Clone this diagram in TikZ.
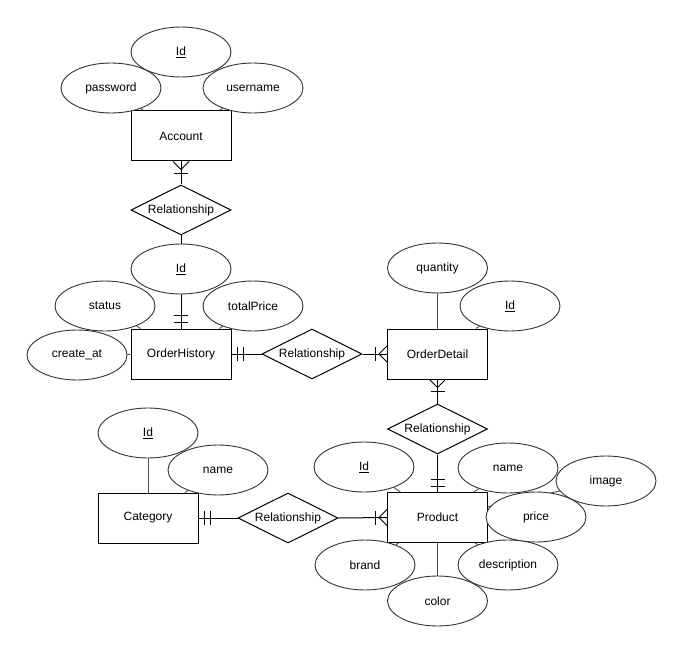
\documentclass[tikz,border=0pt]{standalone}
\usepackage{fontspec}
\setmainfont{Liberation Sans}
\usetikzlibrary{shapes.geometric}
\pgfdeclarelayer{bg}
\pgfsetlayers{bg,main}
\begin{document}
\begin{tikzpicture}[x=1pt,y=-1pt,
  lbl/.style={font=\fontsize{12}{14}\selectfont, text=black},
  ent/.style={lbl, rectangle, draw=black, fill=white, line width=1pt, minimum width=100pt, minimum height=50pt, inner sep=0pt},
  attr/.style={lbl, ellipse, draw=black!80, fill=white, line width=0.9pt, minimum width=100pt, minimum height=50pt, inner sep=0pt},
  rel/.style={lbl, diamond, aspect=2, draw=black, fill=white, line width=1pt, minimum width=100pt, minimum height=50pt, inner sep=0pt},
  link/.style={draw=black!70, line width=0.9pt},
  conn/.style={draw=black, line width=1pt},
  ermark/.style={draw=black, line width=1pt},
]
\useasboundingbox (0,0) rectangle (682,652);

% entities
\node[ent] (acc) at (181,136) {Account};
\node[ent] (oh) at (181,354) {OrderHistory};
\node[ent] (od) at (437.5,354) {OrderDetail};
\node[ent] (prod) at (437.5,517.5) {Product};
\node[ent] (cat) at (148,518) {Category};

% relationships
\node[rel] (rel1) at (181,210) {Relationship};
\node[rel] (rel2) at (312,354) {Relationship};
\node[rel] (rel3) at (437.5,429) {Relationship};
\node[rel] (rel4) at (288,518) {Relationship};

% attributes
\node[attr] (accpw) at (111,88) {password};
\node[attr] (accid) at (181,52) {\underline{Id}};
\node[attr] (accun) at (253,88) {username};

\node[attr] (ohid) at (181,269) {\underline{Id}};
\node[attr] (ohst) at (105,306) {status};
\node[attr] (ohtp) at (253,306) {totalPrice};
\node[attr] (ohca) at (77,355) {create\_at};

\node[attr] (odq) at (437.5,268) {quantity};
\node[attr] (odid) at (510,306) {\underline{Id}};

\node[attr] (catid) at (148,433) {\underline{Id}};
\node[attr] (catname) at (218,470) {name};

\node[attr] (pid) at (364,467) {\underline{Id}};
\node[attr] (pname) at (508,468) {name};
\node[attr] (pimg) at (606,481) {image};
\node[attr] (pprice) at (536,517) {price};
\node[attr] (pbrand) at (365,565) {brand};
\node[attr] (pdesc) at (508,565) {description};
\node[attr] (pcolor) at (437.5,601) {color};

\begin{pgfonlayer}{bg}
  % attribute links
  \draw[link] (accpw) -- (acc);
  \draw[link] (accun) -- (acc);
  \draw[link] (ohst) -- (oh);
  \draw[link] (ohtp) -- (oh);
  \draw[link] (ohca) -- (oh);
  \draw[link] (odq) -- (od);
  \draw[link] (odid) -- (od);
  \draw[link] (catid) -- (cat);
  \draw[link] (catname) -- (cat);
  \draw[link] (pid) -- (prod);
  \draw[link] (pname) -- (prod);
  \draw[link] (pimg) -- (prod);
  \draw[link] (pprice) -- (prod);
  \draw[link] (pbrand) -- (prod);
  \draw[link] (pdesc) -- (prod);
  \draw[link] (pcolor) -- (prod);
  % relationship connectors
  \draw[conn] (acc.south) -- (rel1.north);
  \draw[conn] (rel1.south) -- (oh.north);
  \draw[conn] (oh.east) -- (rel2.west);
  \draw[conn] (rel2.east) -- (od.west);
  \draw[conn] (od.south) -- (rel3.north);
  \draw[conn] (rel3.south) -- (prod.north);
  \draw[conn] (cat.east) -- (rel4.west);
  \draw[conn] (rel4.east) -- (prod.west);
\end{pgfonlayer}

% crow's foot (one or many) at Account bottom
\draw[ermark] ([xshift=-8pt]acc.south) -- ([yshift=-8pt]acc.south) -- ([xshift=8pt]acc.south);
\draw[ermark] ([xshift=-7pt,yshift=-12pt]acc.south) -- ([xshift=7pt,yshift=-12pt]acc.south);
% mandatory one at OrderHistory top
\draw[ermark] ([xshift=-7pt,yshift=6pt]oh.north) -- ([xshift=7pt,yshift=6pt]oh.north);
\draw[ermark] ([xshift=-7pt,yshift=13pt]oh.north) -- ([xshift=7pt,yshift=13pt]oh.north);
% mandatory one at OrderHistory right
\draw[ermark] ([xshift=6pt,yshift=-7pt]oh.east) -- ([xshift=6pt,yshift=7pt]oh.east);
\draw[ermark] ([xshift=12pt,yshift=-7pt]oh.east) -- ([xshift=12pt,yshift=7pt]oh.east);
% crow's foot at OrderDetail left
\draw[ermark] ([yshift=-8pt]od.west) -- ([xshift=-8pt]od.west) -- ([yshift=8pt]od.west);
\draw[ermark] ([xshift=-12pt,yshift=-7pt]od.west) -- ([xshift=-12pt,yshift=7pt]od.west);
% crow's foot at OrderDetail bottom
\draw[ermark] ([xshift=-8pt]od.south) -- ([yshift=-8pt]od.south) -- ([xshift=8pt]od.south);
\draw[ermark] ([xshift=-7pt,yshift=-12pt]od.south) -- ([xshift=7pt,yshift=-12pt]od.south);
% mandatory one at Product top
\draw[ermark] ([xshift=-7pt,yshift=6pt]prod.north) -- ([xshift=7pt,yshift=6pt]prod.north);
\draw[ermark] ([xshift=-7pt,yshift=13pt]prod.north) -- ([xshift=7pt,yshift=13pt]prod.north);
% mandatory one at Category right
\draw[ermark] ([xshift=6pt,yshift=-7pt]cat.east) -- ([xshift=6pt,yshift=7pt]cat.east);
\draw[ermark] ([xshift=12pt,yshift=-7pt]cat.east) -- ([xshift=12pt,yshift=7pt]cat.east);
% crow's foot at Product left
\draw[ermark] ([yshift=-8pt]prod.west) -- ([xshift=-8pt]prod.west) -- ([yshift=8pt]prod.west);
\draw[ermark] ([xshift=-12pt,yshift=-7pt]prod.west) -- ([xshift=-12pt,yshift=7pt]prod.west);
\end{tikzpicture}
\end{document}
